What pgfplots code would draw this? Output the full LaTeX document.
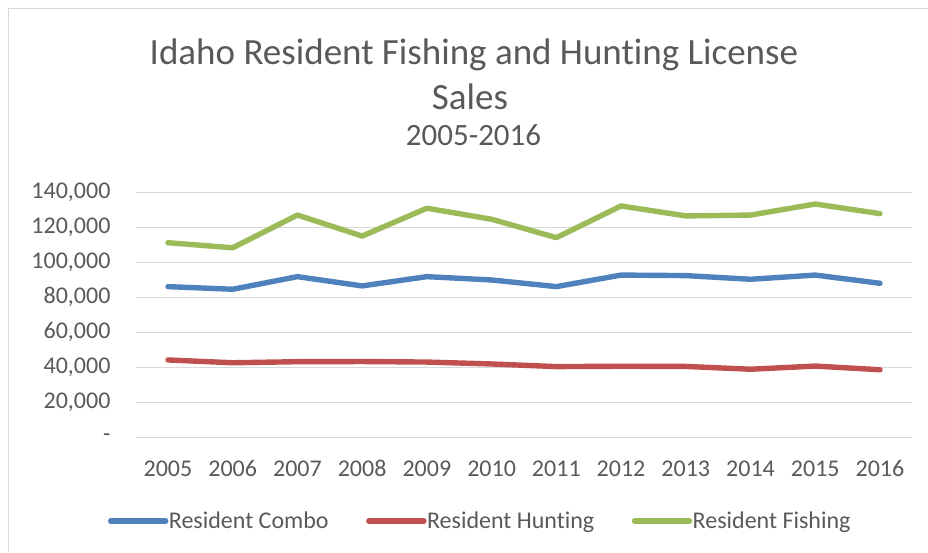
\documentclass[border=0pt]{standalone}
\usepackage{pgfplots}
\pgfplotsset{compat=1.18}
\usepackage{fontspec}
\setmainfont{Carlito}[Ligatures={NoCommon,NoContextual}]
\definecolor{cblue}{HTML}{4F81BD}
\definecolor{cred}{HTML}{C0504D}
\definecolor{cgreen}{HTML}{9BBB59}
\definecolor{ctext}{HTML}{595959}
\definecolor{cgrid}{HTML}{D9D9D9}
\begin{document}
\begin{tikzpicture}[x=1pt,y=1pt]
\useasboundingbox (0,0) rectangle (928,552);
\draw[cgrid, line width=1.3pt] (8.5,0) -- (8.5,543.5) -- (928,543.5);
\node[anchor=base, text=ctext, font=\fontsize{37}{44}\selectfont, inner sep=0pt] at (474,487) {Idaho Resident Fishing and Hunting License};
\node[anchor=base, text=ctext, font=\fontsize{37}{44}\selectfont, inner sep=0pt] at (470,442.7) {Sales};
\node[anchor=base, text=ctext, font=\fontsize{31}{37}\selectfont, inner sep=0pt] at (473.5,406) {2005-2016};
\begin{axis}[
  at={(135.6pt,114.7pt)}, anchor=south west,
  scale only axis, width=776.8pt, height=245pt,
  xmin=2004.5, xmax=2016.5, ymin=0, ymax=140000,
  xtick={2005,...,2016},
  xticklabels={2005,2006,2007,2008,2009,2010,2011,2012,2013,2014,2015,2016},
  ytick={0,20000,...,140000},
  yticklabels={{-},{20,000},{40,000},{60,000},{80,000},{100,000},{120,000},{140,000}},
  scaled y ticks=false,
  /pgf/number format/assume math mode=true,
  major tick length=0pt,
  axis line style={draw=none},
  ymajorgrids, grid style={cgrid, line width=1.3pt},
  tick label style={text=ctext, font=\fontsize{24}{29}\selectfont},
  xticklabel style={anchor=base, inner sep=0pt, yshift=-39.4pt},
  yticklabel style={anchor=east, inner sep=0pt, xshift=-25pt},
  clip=false,
  legend columns=3,
  legend style={at={(axis description cs:-0.0355,-0.3416)}, anchor=west, draw=none, fill=none,
    inner sep=0pt, outer sep=0pt, font=\fontsize{24}{29}\selectfont, text=ctext,
    nodes={inner sep=0.5pt},
    /tikz/every even column/.append style={column sep=37pt}},
  legend image code/.code={\draw[#1, line cap=round] (0pt,0pt) -- (55pt,0pt);},
  every axis plot/.append style={line width=5.4pt, line join=round, line cap=round},
]
\addplot[cblue] coordinates {(2005,86100) (2006,84600) (2007,91800) (2008,86500) (2009,91800) (2010,89900) (2011,86100) (2012,92700) (2013,92400) (2014,90300) (2015,92700) (2016,88000)};
\addlegendentry{Resident Combo}
\addplot[cred] coordinates {(2005,44200) (2006,42600) (2007,43200) (2008,43300) (2009,43000) (2010,41900) (2011,40400) (2012,40600) (2013,40500) (2014,38900) (2015,40700) (2016,38600)};
\addlegendentry{Resident Hunting}
\addplot[cgreen] coordinates {(2005,111200) (2006,108300) (2007,127000) (2008,115000) (2009,130900) (2010,124600) (2011,114100) (2012,132200) (2013,126500) (2014,127000) (2015,133300) (2016,127800)};
\addlegendentry{Resident Fishing}
\end{axis}
\end{tikzpicture}
\end{document}
